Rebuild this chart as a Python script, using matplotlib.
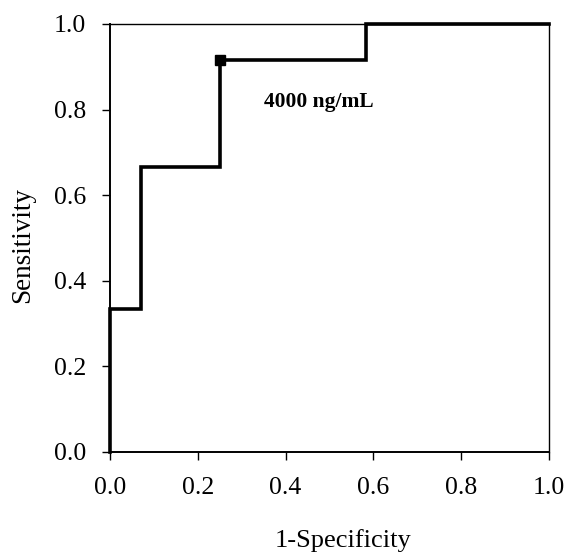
import matplotlib
matplotlib.use("Agg")
import matplotlib.pyplot as plt

fpr = [0.0, 0.0, 0.0714, 0.0714, 0.25, 0.25, 0.5833, 0.5833, 1.0]
tpr = [0.0, 0.3333, 0.3333, 0.6667, 0.6667, 0.9167, 0.9167, 1.0, 1.0]
cut_x = [0.25]
cut_y = [0.9167]
cut_label = "4000 ng/mL"
ticks = [0.0, 0.2, 0.4, 0.6, 0.8, 1.0]

plt.rcParams['font.family'] = ['Liberation Serif', 'DejaVu Serif']

fig = plt.figure(figsize=(5.7, 5.6), dpi=100)
ax = fig.add_axes([110/570, 1-452/560, 439/570, 428/560])

ax.plot(fpr, tpr, color='black', lw=2.6, solid_joinstyle='miter', clip_on=False)
ax.plot(cut_x, cut_y, marker='s', color='black', ms=6.5, ls='none')
ax.text(0.35, 0.818, cut_label, fontsize=15.5, fontweight='bold', va='center', ha='left')

ax.set_xlim(0, 1)
ax.set_ylim(0, 1)
ax.set_xticks(ticks)
ax.set_yticks(ticks)
ax.set_xticklabels([f"{t:.1f}" for t in ticks])
ax.set_yticklabels([f"{t:.1f}" for t in ticks])
ax.tick_params(direction='out', length=6, width=1, labelsize=18.5, pad=12)
ax.tick_params(axis='y', pad=11)
for s in ax.spines.values():
    s.set_linewidth(1.0)
ax.spines['left'].set_linewidth(1.4)
ax.spines['bottom'].set_linewidth(1.4)

ax.set_xlabel("1-Specificity", fontsize=19)
ax.xaxis.set_label_coords(0.531, -0.18)
ax.set_ylabel("Sensitivity", fontsize=19.5)
ax.yaxis.set_label_coords(-0.17, 0.484)

fig.savefig("out.png", dpi=100)
